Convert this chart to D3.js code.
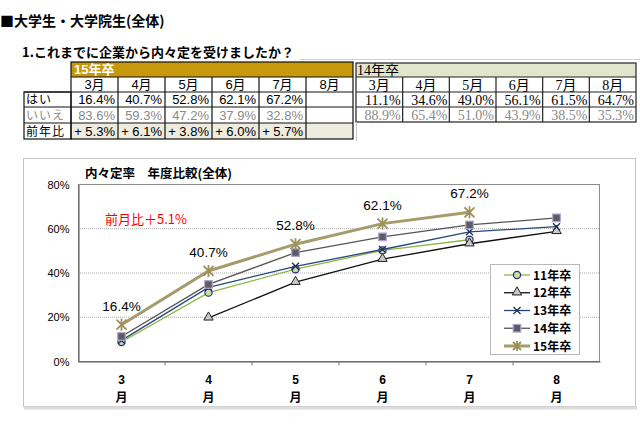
<!DOCTYPE html>
<html>
<head>
<meta charset="utf-8">
<script src="https://cdn.jsdelivr.net/npm/d3@7"></script>
<style>
body { margin: 0; background: #fff; }
svg { display: block; }
</style>
</head>
<body>
<script>
// table data
var months = ["3月", "4月", "5月", "6月", "7月", "8月"];
var yes15 = ["16.4%", "40.7%", "52.8%", "62.1%", "67.2%", ""];
var no15 = ["83.6%", "59.3%", "47.2%", "37.9%", "32.8%", ""];
var diff15 = ["+ 5.3%", "+ 6.1%", "+ 3.8%", "+ 6.0%", "+ 5.7%", ""];
var yes14 = ["11.1%", "34.6%", "49.0%", "56.1%", "61.5%", "64.7%"];
var no14 = ["88.9%", "65.4%", "51.0%", "43.9%", "38.5%", "35.3%"];

// chart data (percent), null = no value
var xMonths = ["3", "4", "5", "6", "7", "8"];
var s11 = [8.6, 30.9, 41.5, 50.0, 54.8, null];
var s12 = [null, 19.5, 35.6, 46.0, 53.0, 58.6];
var s13 = [9.3, 33.3, 42.8, 50.4, 58.4, 60.7];
var s14 = [11.1, 34.6, 49.0, 56.1, 61.5, 64.7];
var s15 = [16.4, 40.7, 52.8, 62.1, 67.2, null];
var seriesNames = ["11年卒", "12年卒", "13年卒", "14年卒", "15年卒"];
var yTicks = [0, 20, 40, 60, 80];

var W = 640, H = 426;
var jp = "'Noto Sans CJK JP', 'Liberation Sans', sans-serif";
var sansJp = "'Liberation Sans', 'Noto Sans CJK JP', sans-serif";
var serif = "'Liberation Serif', 'DejaVu Serif', 'Noto Sans CJK JP', serif";

var svg = d3.select("body").append("svg").attr("width", W).attr("height", H);

// headings
svg.append("text").attr("x", 0).attr("y", 26)
    .attr("font-family", jp).attr("font-size", 14).attr("font-weight", "bold")
    .text("■大学生・大学院生(全体)");
svg.append("text").attr("x", 22).attr("y", 57)
    .attr("font-family", jp).attr("font-size", 13).attr("font-weight", "bold")
    .text("1.これまでに企業から内々定を受けましたか？");
svg.append("line").attr("x1", 300).attr("x2", 640).attr("y1", 59.5).attr("y2", 59.5)
    .attr("stroke", "#d0d0d0");

// ---- left table (15年卒)
var colL = d3.scaleBand().domain(months).range([71, 353]);
var rowY = [62, 77, 92, 107, 123, 139];
var t15 = svg.append("g");

t15.append("rect").attr("x", 71).attr("y", rowY[0]).attr("width", 282).attr("height", rowY[1] - rowY[0])
    .attr("fill", "#c8980c");
t15.append("text").attr("x", 74).attr("y", rowY[1] - 3)
    .attr("font-family", sansJp).attr("font-size", 13).attr("font-weight", "bold").attr("fill", "#fff")
    .text("15年卒");
t15.selectAll("rect.diffcell").data(months).enter().append("rect")
    .attr("class", "diffcell")
    .attr("x", d => colL(d)).attr("y", rowY[4]).attr("width", colL.bandwidth()).attr("height", rowY[5] - rowY[4])
    .attr("fill", "#eeebdf");

t15.selectAll("text.mon").data(months).enter().append("text")
    .attr("class", "mon")
    .attr("x", d => colL(d) + colL.bandwidth() / 2).attr("y", rowY[2] - 3)
    .attr("text-anchor", "middle").attr("font-family", sansJp).attr("font-size", 13)
    .text(d => d);

var leftRows = [[yes15, "#000"], [no15, "#8a8a8a"], [diff15, "#000"]];
leftRows.forEach((r, i) => {
    t15.selectAll("text.r" + i).data(r[0]).enter().append("text")
        .attr("class", "r" + i)
        .attr("x", (d, j) => colL(months[j]) + colL.bandwidth() - 3)
        .attr("y", rowY[i + 3] - 3)
        .attr("text-anchor", "end").attr("font-family", sansJp).attr("font-size", 13)
        .attr("fill", r[1])
        .text(d => d);
});
var rowLabels = [["はい", "#000"], ["いいえ", "#8a8a8a"], ["前年比", "#000"]];
rowLabels.forEach((r, i) => {
    t15.append("text").attr("x", 26).attr("y", rowY[i + 3] - 3)
        .attr("font-family", jp).attr("font-size", 12).attr("letter-spacing", 1).attr("fill", r[1])
        .text(r[0]);
});

// grid lines of left table
var gl = t15.append("g").attr("stroke", "#111").attr("stroke-width", 1.2).attr("fill", "none");
gl.append("rect").attr("x", 71).attr("y", rowY[0]).attr("width", 282).attr("height", rowY[5] - rowY[0]);
gl.append("rect").attr("x", 24).attr("y", rowY[2]).attr("width", 47).attr("height", rowY[5] - rowY[2]);
rowY.slice(1, 5).forEach(y => {
    gl.append("line").attr("x1", y < rowY[2] ? 71 : 24).attr("x2", 353).attr("y1", y).attr("y2", y);
});
months.slice(1).forEach(m => {
    gl.append("line").attr("x1", colL(m)).attr("x2", colL(m)).attr("y1", rowY[1]).attr("y2", rowY[5]);
});

// ---- right table (14年卒)
var colR = d3.scaleBand().domain(months).range([356, 636]);
var rowR = [63, 77, 92, 107, 122];
var t14 = svg.append("g");
t14.append("rect").attr("x", 356).attr("y", rowR[0]).attr("width", 280).attr("height", rowR[1] - rowR[0])
    .attr("fill", "#e1e5cb");
t14.append("text").attr("x", 357).attr("y", rowR[1] - 2)
    .attr("font-family", serif).attr("font-size", 14)
    .text("14年卒");
t14.selectAll("text.mon").data(months).enter().append("text")
    .attr("class", "mon")
    .attr("x", d => colR(d) + colR.bandwidth() / 2).attr("y", rowR[2] - 2)
    .attr("text-anchor", "middle").attr("font-family", serif).attr("font-size", 14)
    .text(d => d);
[[yes14, "#000"], [no14, "#8a8a8a"]].forEach((r, i) => {
    t14.selectAll("text.r" + i).data(r[0]).enter().append("text")
        .attr("class", "r" + i)
        .attr("x", (d, j) => colR(months[j]) + colR.bandwidth() - 2)
        .attr("y", rowR[i + 3] - 2)
        .attr("text-anchor", "end").attr("font-family", serif).attr("font-size", 14)
        .attr("fill", r[1])
        .text(d => d);
});
var gr = t14.append("g").attr("stroke", "#222").attr("stroke-width", 1.2).attr("fill", "none");
gr.append("rect").attr("x", 356).attr("y", rowR[0]).attr("width", 280).attr("height", rowR[4] - rowR[0]);
rowR.slice(1, 4).forEach(y => {
    gr.append("line").attr("x1", 356).attr("x2", 636).attr("y1", y).attr("y2", y);
});
months.slice(1).forEach(m => {
    gr.append("line").attr("x1", colR(m)).attr("x2", colR(m)).attr("y1", rowR[1]).attr("y2", rowR[4]);
});
t14.append("line").attr("x1", 356.5).attr("x2", 356.5).attr("y1", 122).attr("y2", 141)
    .attr("stroke", "#c8c8c8");

// ---- chart
svg.append("rect").attr("x", 23.5).attr("y", 158.5).attr("width", 612).attr("height", 248)
    .attr("fill", "#fff").attr("stroke", "#c4c4c4");
svg.append("line").attr("x1", 24).attr("x2", 637).attr("y1", 408).attr("y2", 408)
    .attr("stroke", "#dcdcdc").attr("stroke-width", 3);

var x = d3.scaleBand().domain(xMonths).range([78, 600]);
var y = d3.scaleLinear().domain([0, 80]).range([361, 184]);

svg.append("text").attr("x", 85).attr("y", 178)
    .attr("font-family", jp).attr("font-size", 12.5).attr("font-weight", "bold")
    .text("内々定率　年度比較(全体)");

// gridlines
svg.append("g").selectAll("line").data(yTicks.slice(1, 4)).enter().append("line")
    .attr("x1", 78).attr("x2", 600).attr("y1", d => y(d) + 0.5).attr("y2", d => y(d) + 0.5)
    .attr("stroke", "#aaa").attr("stroke-dasharray", "1,1");

svg.append("rect").attr("x", 78.5).attr("y", y(80) + 0.5).attr("width", 521).attr("height", y(0) - y(80))
    .attr("fill", "none").attr("stroke", "#8c8c8c");

var yAxis = svg.append("g").attr("transform", "translate(78.5,0.5)")
    .call(d3.axisLeft(y).tickValues(yTicks).tickFormat(d => d + "%").tickSize(0).tickPadding(9));
yAxis.select(".domain").attr("stroke", "#555");
yAxis.selectAll("text").attr("font-family", sansJp).attr("font-size", 11).attr("fill", "#000");

var xAxis = svg.append("g").attr("transform", "translate(0," + (y(0) + 0.5) + ")")
    .call(d3.axisBottom(x).tickSize(0).tickFormat(""));
xAxis.select(".domain").attr("stroke", "#555");
xAxis.selectAll("g.tick").append("line")
    .attr("x1", x.bandwidth() / 2).attr("x2", x.bandwidth() / 2).attr("y1", 0).attr("y2", 4)
    .attr("stroke", "#777");
xAxis.selectAll("g.tick").filter((d, i) => i == xMonths.length - 1).select("line:last-child").remove();
xAxis.selectAll("g.tick").append("text").attr("y", 22).attr("fill", "#000")
    .attr("font-family", sansJp).attr("font-size", 12).attr("font-weight", "bold")
    .text(d => d);
xAxis.selectAll("g.tick").append("text").attr("y", 40).attr("fill", "#000")
    .attr("font-family", jp).attr("font-size", 12).attr("font-weight", "bold")
    .text("月");

var styles = [
    { data: s11, color: "#8fb548", width: 1.3, marker: "circle", fill: "#c9e09c", mstroke: "#2a2a8a" },
    { data: s12, color: "#111", width: 1.3, marker: "triangle", fill: "#c8c8c8", mstroke: "#222" },
    { data: s13, color: "#254a78", width: 1.3, marker: "cross", fill: "none", mstroke: "#1c2f55" },
    { data: s14, color: "#555", width: 1.3, marker: "square", fill: "#5c5c66", mstroke: "#b0a4cf" },
    { data: s15, color: "#a59c6a", width: 3, marker: "star", fill: "none", mstroke: "#9a915c" }
];

var line = d3.line()
    .defined(d => d.v != null)
    .x(d => x(d.m) + x.bandwidth() / 2)
    .y(d => y(d.v));

function drawMarker(g, type, fill, stroke, big) {
    if (type == "circle") {
        g.append("circle").attr("r", 3.6).attr("fill", fill).attr("stroke", stroke).attr("stroke-width", 1.2);
    } else if (type == "triangle") {
        g.append("path").attr("d", d3.symbol(d3.symbolTriangle, 38)()).attr("transform", "translate(0,-0.5)")
            .attr("fill", fill).attr("stroke", stroke).attr("stroke-width", 1);
    } else if (type == "square") {
        g.append("rect").attr("x", -3.8).attr("y", -3.8).attr("width", 7.6).attr("height", 7.6)
            .attr("fill", fill).attr("stroke", stroke).attr("stroke-width", 1.2);
    } else if (type == "cross") {
        g.append("path").attr("d", "M-3.5,-3.5L3.5,3.5M-3.5,3.5L3.5,-3.5")
            .attr("stroke", stroke).attr("stroke-width", 1.3);
    } else {
        var s = big ? 5 : 4;
        g.append("path").attr("d", `M${-s},${-s}L${s},${s}M${-s},${s}L${s},${-s}M0,${-s - 1}L0,${s + 1}`)
            .attr("stroke", stroke).attr("stroke-width", 1.8);
    }
}

styles.forEach(st => {
    var pts = xMonths.map((m, i) => ({ m: m, v: st.data[i] }));
    svg.append("path").datum(pts).attr("d", line)
        .attr("fill", "none").attr("stroke", st.color).attr("stroke-width", st.width);
    svg.append("g").selectAll("g").data(pts.filter(p => p.v != null)).enter().append("g")
        .attr("transform", d => "translate(" + (x(d.m) + x.bandwidth() / 2) + "," + y(d.v) + ")")
        .each(function () { drawMarker(d3.select(this), st.marker, st.fill, st.mstroke, true); });
});

// value labels for 15年卒
svg.append("g").selectAll("text").data(xMonths.filter((m, i) => s15[i] != null)).enter().append("text")
    .attr("x", d => x(d) + x.bandwidth() / 2)
    .attr("y", (d, i) => y(s15[i]) - 14)
    .attr("text-anchor", "middle").attr("font-family", sansJp).attr("font-size", 13.5)
    .text((d, i) => s15[i].toFixed(1) + "%");

svg.append("text").attr("x", 105).attr("y", 224)
    .attr("font-family", jp).attr("font-size", 13).attr("fill", "#ff0000")
    .text("前月比＋5.1%");

// legend
var lg = svg.append("g");
lg.append("rect").attr("x", 490.5).attr("y", 264.5).attr("width", 89).attr("height", 90)
    .attr("fill", "#fff").attr("stroke", "#b8b8b8");
var ly = d3.scalePoint().domain(seriesNames).range([275, 346]);
styles.forEach((st, i) => {
    var yy = ly(seriesNames[i]);
    lg.append("line").attr("x1", 504).attr("x2", 530).attr("y1", yy).attr("y2", yy)
        .attr("stroke", st.color).attr("stroke-width", st.width);
    drawMarker(lg.append("g").attr("transform", "translate(517," + yy + ")"), st.marker, st.fill, st.mstroke, false);
    lg.append("text").attr("x", 533).attr("y", yy + 4.5)
        .attr("font-family", jp).attr("font-size", 12).attr("font-weight", "bold")
        .text(seriesNames[i]);
});
</script>
</body>
</html>
